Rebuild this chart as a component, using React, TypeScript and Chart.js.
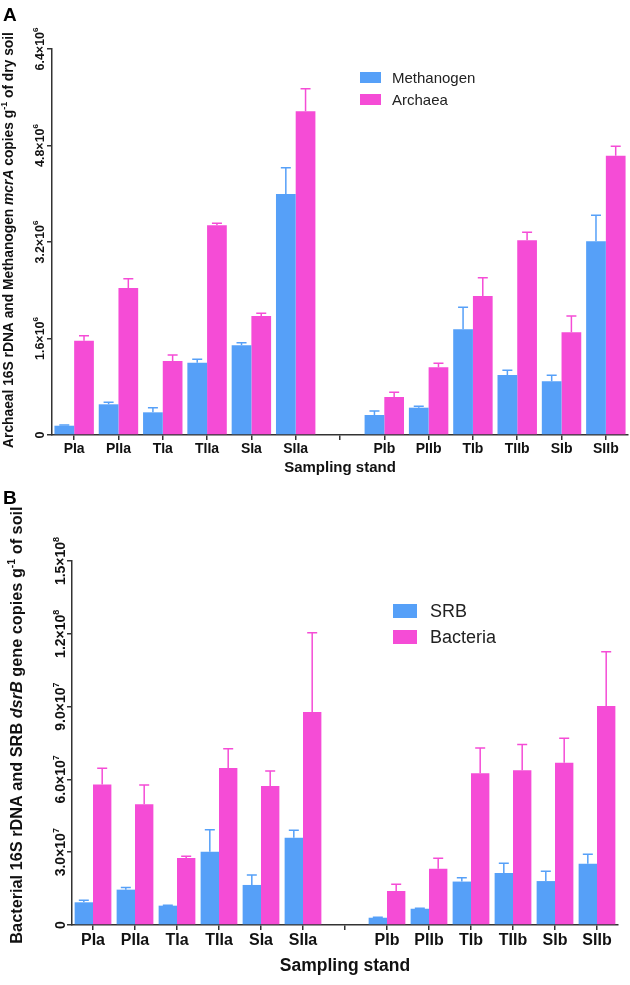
import React, { useEffect, useRef } from 'react';
import { Chart, registerables } from 'chart.js';
Chart.register(...registerables);

// ---------- DATA ----------
const categories = ['PIa', 'PIIa', 'TIa', 'TIIa', 'SIa', 'SIIa', '', 'PIb', 'PIIb', 'TIb', 'TIIb', 'SIb', 'SIIb'];

const methanogen = [154000, 509000, 376000, 1199000, 1487000, 3996000, null, 332000, 453000, 1752000, 995000, 890000, 3211000];
const methanogenErr = [10000, 33000, 77000, 56000, 44000, 436000, null, 66000, 22000, 365000, 77000, 100000, 431000];
const archaea = [1563000, 2437000, 1227000, 3476000, 1973000, 5367000, null, 630000, 1122000, 2305000, 3228000, 1702000, 4631000];
const archaeaErr = [83000, 155000, 99000, 34000, 44000, 375000, null, 77000, 66000, 303000, 132000, 271000, 155000];
const yTicksA = [0, 1600000, 3200000, 4800000, 6400000];

const srb = [9350000, 14570000, 7970000, 30200000, 16500000, 36000000, null, 3000000, 6700000, 17900000, 21400000, 18100000, 25200000];
const srbErr = [850000, 930000, 200000, 9100000, 4100000, 3000000, null, 200000, 200000, 1600000, 4000000, 4000000, 4000000];
const bacteria = [57900000, 49800000, 27630000, 64700000, 57300000, 87800000, null, 14000000, 23200000, 62500000, 63800000, 66900000, 90200000];
const bacteriaErr = [6700000, 7900000, 670000, 7900000, 6200000, 32600000, null, 2800000, 4300000, 10400000, 10600000, 10100000, 22400000];
const yTicksB = [0, 30000000, 60000000, 90000000, 120000000, 150000000];

const BLUE = '#56A0F8';
const MAGENTA = '#F54CD6';
const FONT = '"Liberation Sans", Arial, Helvetica, sans-serif';

type Piece = { t: string; font: string; sup?: boolean };

function drawRotated(ctx: CanvasRenderingContext2D, pieces: Piece[], cx: number, cy: number, size: number) {
  ctx.save();
  ctx.translate(cx, cy);
  ctx.rotate(-Math.PI / 2);
  ctx.textBaseline = 'alphabetic';
  ctx.textAlign = 'left';
  ctx.fillStyle = '#111';
  let total = 0;
  const ws = pieces.map((p) => {
    ctx.font = p.font;
    const w = ctx.measureText(p.t).width;
    total += w;
    return w;
  });
  let x = -total / 2;
  pieces.forEach((p, i) => {
    ctx.font = p.font;
    ctx.fillText(p.t, x, p.sup ? size * 0.36 - size * 0.45 : size * 0.36);
    x += ws[i];
  });
  ctx.restore();
}

function tickPieces(v: number, size: number): Piece[] {
  const f = `bold ${size}px ${FONT}`;
  const fs = `bold ${Math.round(size * 0.62)}px ${FONT}`;
  if (v === 0) return [{ t: '0', font: f }];
  const exp = Math.floor(Math.log10(v) + 1e-9);
  const man = (v / Math.pow(10, exp)).toFixed(1);
  return [
    { t: man + '×10', font: f },
    { t: String(exp), font: fs, sup: true },
  ];
}

interface PanelProps {
  top: number;
  height: number;
  area: { left: number; top: number; right: number; bottom: number };
  letter: string;
  letterY: number;
  data1: (number | null)[];
  err1: (number | null)[];
  data2: (number | null)[];
  err2: (number | null)[];
  label1: string;
  label2: string;
  yTicks: number[];
  tickFont: number;
  yTickFont: number;
  yTickX: number;
  titleFont: number;
  catPct: number;
  yTitle: Piece[];
  yTitleX: number;
  yTitleY: number;
  yTitleSize: number;
  legend: { x: number; y: number; bw: number; bh: number; gap: number; size: number; tx: number };
}

function Panel(p: PanelProps) {
  const ref = useRef<HTMLCanvasElement | null>(null);
  useEffect(() => {
    const canvas = ref.current!;
    const W = 630;
    const errs = [p.err1, p.err2];
    const plugin = {
      id: 'custom' + p.letter,
      afterDatasetsDraw(chart: any) {
        const ctx = chart.ctx as CanvasRenderingContext2D;
        const ys = chart.scales.y;
        chart.data.datasets.forEach((ds: any, i: number) => {
          const meta = chart.getDatasetMeta(i);
          meta.data.forEach((el: any, j: number) => {
            const v = ds.data[j];
            const e = errs[i][j];
            if (v == null || e == null) return;
            const yTop = ys.getPixelForValue(v + e);
            ctx.save();
            ctx.strokeStyle = ds.backgroundColor;
            ctx.lineWidth = 1.5;
            ctx.beginPath();
            ctx.moveTo(el.x, el.y);
            ctx.lineTo(el.x, yTop);
            ctx.moveTo(el.x - 5, yTop);
            ctx.lineTo(el.x + 5, yTop);
            ctx.stroke();
            ctx.restore();
          });
        });
      },
      afterDraw(chart: any) {
        const ctx = chart.ctx as CanvasRenderingContext2D;
        const ys = chart.scales.y;
        ys.ticks.forEach((t: any) => {
          const y = ys.getPixelForValue(t.value);
          drawRotated(ctx, tickPieces(t.value, p.yTickFont), p.yTickX, y, p.yTickFont);
        });
        drawRotated(ctx, p.yTitle, p.yTitleX, p.yTitleY, p.yTitleSize);
        const L = p.legend;
        chart.data.datasets.forEach((ds: any, i: number) => {
          const by = L.y + i * L.gap;
          ctx.save();
          ctx.fillStyle = ds.backgroundColor;
          ctx.fillRect(L.x, by, L.bw, L.bh);
          ctx.fillStyle = '#222';
          ctx.font = `${L.size}px ${FONT}`;
          ctx.textBaseline = 'middle';
          ctx.textAlign = 'left';
          ctx.fillText(ds.label, L.tx, by + L.bh / 2 + 1);
          ctx.restore();
        });
        ctx.save();
        ctx.fillStyle = '#000';
        ctx.font = `bold 19px ${FONT}`;
        ctx.textBaseline = 'alphabetic';
        ctx.fillText(p.letter, 3, p.letterY);
        ctx.restore();
      },
    };

    const chart = new Chart(canvas, {
      type: 'bar',
      data: {
        labels: categories,
        datasets: [
          { label: p.label1, data: p.data1 as any, backgroundColor: BLUE, borderWidth: 0, categoryPercentage: p.catPct, barPercentage: 1.0 },
          { label: p.label2, data: p.data2 as any, backgroundColor: MAGENTA, borderWidth: 0, categoryPercentage: p.catPct, barPercentage: 1.0 },
        ],
      },
      options: {
        animation: false,
        responsive: false,
        maintainAspectRatio: false,
        layout: { padding: { left: 0, top: p.area.top, right: W - p.area.right, bottom: 0 } },
        plugins: { legend: { display: false }, tooltip: { enabled: false }, title: { display: false } },
        scales: {
          x: {
            offset: true,
            grid: { offset: false, drawOnChartArea: false, drawTicks: true, tickLength: 5, color: '#333', lineWidth: 1.5 },
            border: { display: true, color: '#333', width: 1.5 },
            ticks: { autoSkip: false, maxRotation: 0, minRotation: 0, padding: 1, color: '#111', font: { family: FONT, size: p.tickFont, weight: 'bold' } },
            title: { display: true, text: 'Sampling stand', color: '#111', font: { family: FONT, size: p.titleFont, weight: 'bold' }, padding: { top: 0, bottom: p.top === 0 ? 3 : 8 } },
            afterFit: (s: any) => { s.height = p.height - p.area.bottom; },
          },
          y: {
            min: p.yTicks[0],
            max: p.yTicks[p.yTicks.length - 1],
            afterBuildTicks: (s: any) => { s.ticks = p.yTicks.map((v) => ({ value: v })); },
            grid: { drawOnChartArea: false, drawTicks: true, tickLength: 5, color: '#333', lineWidth: 1.5 },
            border: { display: true, color: '#333', width: 1.5 },
            ticks: { display: false },
            afterFit: (s: any) => { s.width = p.area.left; },
          },
        },
      } as any,
      plugins: [plugin as any],
    });
    return () => chart.destroy();
  }, []);
  return (
    <canvas
      ref={ref}
      width={630}
      height={p.height}
      style={{ position: 'absolute', left: 0, top: p.top, width: 630, height: p.height }}
    />
  );
}

export default function App() {
  const bA = `bold 13.8px ${FONT}`;
  const biA = `italic bold 13.8px ${FONT}`;
  const sA = `bold 9px ${FONT}`;
  const bB = `bold 16.3px ${FONT}`;
  const biB = `italic bold 16.3px ${FONT}`;
  const sB = `bold 10.5px ${FONT}`;
  return (
    <div style={{ position: 'absolute', left: 0, top: 0, width: 630, height: 985, background: '#fff' }}>
      <Panel
        top={0}
        height={480}
        area={{ left: 52, top: 49, right: 628, bottom: 435 }}
        letter="A"
        letterY={21}
        data1={methanogen}
        err1={methanogenErr}
        data2={archaea}
        err2={archaeaErr}
        label1="Methanogen"
        label2="Archaea"
        yTicks={yTicksA}
        tickFont={14}
        yTickFont={12.5}
        yTickX={39}
        titleFont={15}
        catPct={0.89}
        yTitle={[
          { t: 'Archaeal 16S rDNA and Methanogen ', font: bA },
          { t: 'mcrA', font: biA },
          { t: ' copies g', font: bA },
          { t: '-1', font: sA, sup: true },
          { t: ' of dry soil', font: bA },
        ]}
        yTitleX={8}
        yTitleY={240}
        yTitleSize={13.8}
        legend={{ x: 360, y: 72, bw: 21, bh: 11, gap: 22, size: 15, tx: 392 }}
      />
      <Panel
        top={480}
        height={505}
        area={{ left: 72, top: 81, right: 618, bottom: 445 }}
        letter="B"
        letterY={24}
        data1={srb}
        err1={srbErr}
        data2={bacteria}
        err2={bacteriaErr}
        label1="SRB"
        label2="Bacteria"
        yTicks={yTicksB}
        tickFont={16}
        yTickFont={14}
        yTickX={60}
        titleFont={17.5}
        catPct={0.875}
        yTitle={[
          { t: 'Bacterial 16S rDNA and SRB ', font: bB },
          { t: 'dsrB', font: biB },
          { t: ' gene copies g', font: bB },
          { t: '-1', font: sB, sup: true },
          { t: ' of soil', font: bB },
        ]}
        yTitleX={16}
        yTitleY={245}
        yTitleSize={16.3}
        legend={{ x: 393, y: 124, bw: 24, bh: 14, gap: 26, size: 18, tx: 430 }}
      />
    </div>
  );
}
